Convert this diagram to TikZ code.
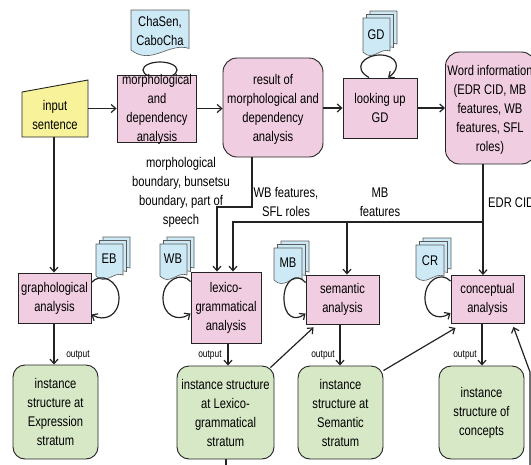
\documentclass[tikz,border=0pt]{standalone}
\usepackage{fontspec}
\setmainfont{Liberation Sans}[FakeStretch=0.8]
\usetikzlibrary{arrows.meta,calc}
\definecolor{pinkF}{RGB}{240,205,225}
\definecolor{greenF}{RGB}{214,232,198}
\definecolor{yellowF}{RGB}{248,243,154}
\definecolor{blueF}{RGB}{205,233,246}
\definecolor{edgec}{RGB}{35,35,35}
% document shape: x0 y0 x1 y1(lowest) d
\newcommand\mydoc[5]{%
  \filldraw[docst] ({#1},{#2}) -- ({#3},{#2}) -- ({#3},{(#4)-1.2*(#5)})
    .. controls ({(#1)+0.65*((#3)-(#1))},{(#4)-2*(#5)}) and ({(#1)+0.35*((#3)-(#1))},{(#4)+(#5)}) ..
    ({#1},{(#4)-(#5)}) -- cycle;}
\newcommand\mystack[5]{%
  \mydoc{(#1)+7}{(#2)-7}{(#3)+7}{(#4)-7}{#5}%
  \mydoc{(#1)+3.5}{(#2)-3.5}{(#3)+3.5}{(#4)-3.5}{#5}%
  \mydoc{#1}{#2}{#3}{#4}{#5}}
\begin{document}
\begin{tikzpicture}[x=1pt,y=-1pt,
  every node/.style={font=\fontsize{14}{19}\selectfont, align=center, inner sep=0pt},
  pinkbox/.style={draw=edgec, fill=pinkF, line width=0.9pt},
  roundpink/.style={draw=edgec, fill=pinkF, line width=0.9pt, rounded corners=14pt},
  greenbox/.style={draw=edgec, fill=greenF, line width=0.9pt, rounded corners=12pt},
  docst/.style={draw=edgec!75, fill=blueF, line width=0.6pt},
  plainline/.style={draw=edgec, line width=1.2pt},
  arr/.style={draw=edgec, line width=1.2pt, -{Straight Barb[length=4.5pt,width=8pt]}},
  outlbl/.style={font=\fontsize{10.5}{12}\selectfont},
  ]
\useasboundingbox (0,0) rectangle (531,464);
\clip (0,0) rectangle (531,464);

% documents
\mydoc{131}{10}{189}{58}{8}
\node (chasen) at (160,31) {ChaSen,\\CaboCha};
\mystack{363}{18}{390}{57}{5}
\node (gd) at (376,35) {GD};
\mystack{96}{244}{123}{281}{5}
\node (eb) at (109,259) {EB};
\mystack{160}{244}{187}{281}{5}
\node (wb) at (173,259) {WB};
\mystack{274}{248}{302}{285}{5}
\node (mb) at (288,263) {MB};
\mystack{416}{245}{444}{282}{5}
\node (cr) at (430,261) {CR};

% loop above morph box
\draw[plainline] (160,70) ellipse [x radius=17pt, y radius=8pt];

% input sentence (manual input shape)
\filldraw[draw=edgec, fill=yellowF, line width=0.9pt] (22,92) -- (88,80) -- (88,137) -- (22,137) -- cycle;
\node[minimum width=66pt, minimum height=57pt] (inp) at (55,108.5) {};
\node (inpT) at (55,115) {input\\sentence};

% top row
\node[pinkbox, minimum width=79pt, minimum height=67pt] (morph) at (156.5,108.5) {};
\node (morphT) at (157,109) {morphological\\and\\dependency\\analysis};
\node[roundpink, minimum width=100pt, minimum height=99pt] (res) at (273,107.5) {};
\node (resT) at (273,109) {result of\\morphological and\\dependency\\analysis};
\node[pinkbox, minimum width=74pt, minimum height=60pt] (look) at (380,108) {looking up\\GD};
\node[roundpink, minimum width=90pt, minimum height=112pt] (wi) at (490.5,108) {};
\node (wiT) at (490,110) {Word information\\(EDR CID, MB\\features, WB\\features, SFL\\roles)};

% labels
\node (lblA) at (181,192.5) {morphological\\boundary, bunsetsu\\boundary, part of\\speech};
\node (lblB) at (286,202) {WB features,\\SFL roles};
\node (lblC) at (380,202) {MB\\features};
\node[anchor=west] (lblD) at (488,203) {EDR CID};

% analysis row
\node[pinkbox, minimum width=73pt, minimum height=50pt] (gra) at (54.5,298) {graphological\\analysis};
\node[pinkbox, minimum width=70pt, minimum height=71pt] (lex) at (226,307.5) {lexico-\\grammatical\\analysis};
\node[pinkbox, minimum width=73pt, minimum height=49pt] (sem) at (342.5,299.5) {semantic\\analysis};
\node[pinkbox, minimum width=73pt, minimum height=48pt] (conc) at (487.5,299.5) {conceptual\\analysis};

% instance row
\node[greenbox, minimum width=85pt, minimum height=94pt] (exi) at (55.5,412) {instance\\structure at\\Expression\\stratum};
\node[greenbox, minimum width=97pt, minimum height=93pt] (li) at (225.5,412.5) {instance structure\\at Lexico-\\grammatical\\stratum};
\node[greenbox, minimum width=85pt, minimum height=93pt] (si) at (340.5,412.5) {instance\\structure at\\Semantic\\stratum};
\node[greenbox, minimum width=85pt, minimum height=93pt] (ci) at (481.5,412.5) {instance\\structure of\\concepts};

% top row arrows
\draw[arr] (inp.east) -- (morph.west);
\draw[arr] (morph.east) -- (morph.east -| res.west);
\draw[arr] (look.west -| res.east) -- (look.west);
\draw[arr] (look.east) -- (look.east -| wi.west);

% GD loop
\draw[arr] ([xshift=-11pt]look.north) .. controls (352,68) and (364,55) .. (380,55)
  .. controls (397,55) and (402,68) .. ([xshift=8pt]look.north);

% input to graphological
\draw[arr] (inp.south -| 54,0) -- (gra.north -| 54,0);

% result to lexico
\coordinate (j1) at (252,207);
\coordinate (j2) at (217,207);
\draw[arr] (res.south -| j1) -- (j1) -- (j2) -- (j2 |- lex.north);

% word information bus
\coordinate (bus) at (483,222);
\coordinate (busL) at (233,222);
\coordinate (busM) at (347,222);
\draw[arr] (wi.south -| bus) -- (bus) -- (busL) -- (busL |- lex.north);
\draw[arr] (busM) -- (busM |- sem.north);
\draw[arr] (bus) -- (bus |- conc.north);

% self loops
\draw[arr] ([yshift=-10pt]gra.north east) .. controls (100,272) and (119,280) .. (119,298)
  .. controls (119,316) and (104,322) .. ([yshift=9pt]gra.south east);
\draw[arr] ([yshift=-10pt]lex.north west) .. controls (182,271) and (163,280) .. (163,298)
  .. controls (163,316) and (178,322) .. ([yshift=-42pt]lex.north west);
\draw[arr] ([yshift=-8pt]sem.north west) .. controls (297,272) and (284,280) .. (284,298)
  .. controls (284,316) and (294,322) .. ([yshift=-39pt]sem.north west);
\draw[arr] ([yshift=-6pt]conc.north west) .. controls (441,271) and (425,280) .. (425,298)
  .. controls (425,315) and (438,321) .. ([yshift=-38pt]conc.north west);

% output arrows
\draw[arr] (gra.south -| 54,0) -- (exi.north -| 54,0);
\node[outlbl] (o1) at (78,355) {output};
\draw[arr] (lex.south -| 228,0) -- (li.north -| 228,0);
\node[outlbl] (o2) at (210,355) {output};
\draw[arr] (sem.south -| 340,0) -- (si.north -| 340,0);
\node[outlbl] (o3) at (323,355) {output};
\draw[arr] (conc.south -| 482,0) -- (ci.north -| 482,0);
\node[outlbl] (o4) at (465,355) {output};

% diagonal arrows
\draw[arr] ([xshift=-4pt,yshift=-2pt]li.north east) -- ([xshift=8pt,yshift=-3pt]sem.south west);
\draw[arr] ([yshift=-5pt]si.north east) -- ([xshift=5pt,yshift=-4pt]conc.south west);
\coordinate (cfree) at (530,470);
\coordinate (cbend) at (530,372);
\draw[arr] (cfree) -- (cbend) -- ([xshift=-11pt,yshift=-3pt]conc.south east);

% line leaving lexico instance
\coordinate (lfree) at (226,470);
\draw[plainline] (li.south -| lfree) -- (lfree);
\end{tikzpicture}
\end{document}
